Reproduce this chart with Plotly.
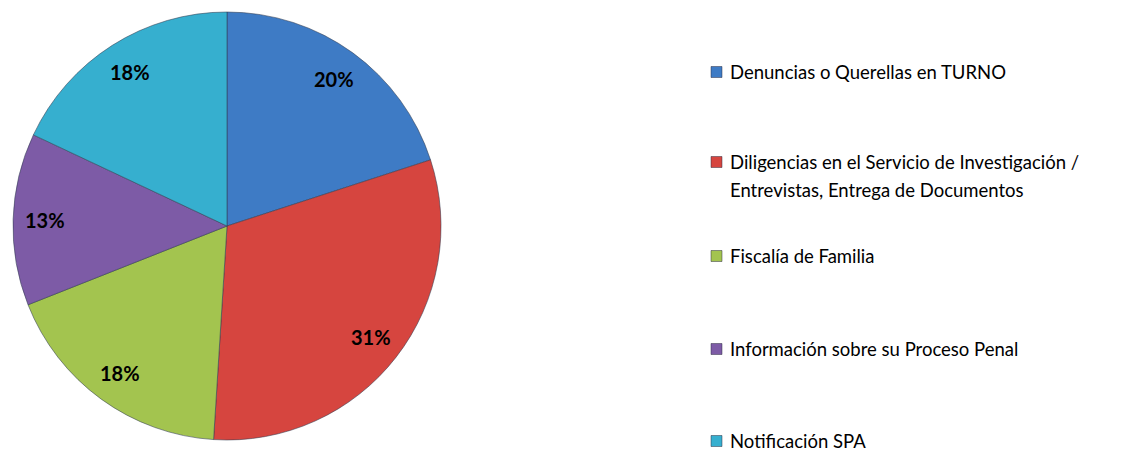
import math
import plotly.graph_objects as go

categories = [
    "Denuncias o Querellas en TURNO",
    "Diligencias en el Servicio de Investigación /<br>Entrevistas, Entrega de Documentos",
    "Fiscalía de Familia",
    "Información sobre su Proceso Penal",
    "Notificación SPA",
]
values = [20, 31, 18, 13, 18]
colors = ["#3E7BC5", "#D6453F", "#A3C44F", "#7D5BA6", "#36AFCF"]

OFF = 8  # page body margin
W, H = 1132 - OFF, 451 - OFF
cx, cy, R = 227 - OFF, 226 - OFF, 214


def px2x(x):
    return (x - OFF) / W


def px2y(y):
    return 1 - (y - OFF) / H


fig = go.Figure()
fig.add_trace(go.Pie(
    labels=[c.replace("<br>", " ") for c in categories],
    values=values,
    sort=False,
    direction="clockwise",
    rotation=0,
    marker=dict(colors=colors, line=dict(color="rgba(50,60,80,0.55)", width=1)),
    textinfo="none",
    showlegend=False,
    hoverinfo="label+percent",
    domain=dict(x=[(cx - R) / W, (cx + R) / W], y=[1 - (cy + R) / H, 1 - (cy - R) / H]),
))

annotations = []
shapes = []
total = sum(values)
cum = 0
for v in values:
    mid = (cum + v / 2) / total * 2 * math.pi
    cum += v
    px = cx + 0.85 * R * math.sin(mid)
    py = cy - 0.85 * R * math.cos(mid)
    annotations.append(dict(
        x=px / W, y=1 - py / H, xref="paper", yref="paper",
        text="<b>%d%%</b>" % round(v / total * 100), showarrow=False,
        font=dict(family="Lato, Open Sans, sans-serif", size=20, color="black"),
        xanchor="center", yanchor="middle",
    ))

leg_y = [72, 162, 256, 349, 441]
line_h = 28
for cat, col, y0 in zip(categories, colors, leg_y):
    shapes.append(dict(
        type="rect", xref="paper", yref="paper",
        x0=px2x(711), x1=px2x(722), y0=px2y(y0 + 5.5), y1=px2y(y0 - 5.5),
        fillcolor=col, line=dict(color="rgba(40,40,60,0.6)", width=0.8),
    ))
    for i, line in enumerate(cat.split("<br>")):
        annotations.append(dict(
            x=px2x(728), y=px2y(y0 + i * line_h), xref="paper", yref="paper",
            text=line, showarrow=False, xanchor="left", yanchor="middle",
            font=dict(family="Lato, Open Sans, sans-serif", size=18.5, color="black"),
        ))

fig.update_layout(
    width=W, height=H,
    margin=dict(l=0, r=0, t=0, b=0),
    paper_bgcolor="white", plot_bgcolor="white",
    annotations=annotations, shapes=shapes,
)
fig.write_html("out.html")
